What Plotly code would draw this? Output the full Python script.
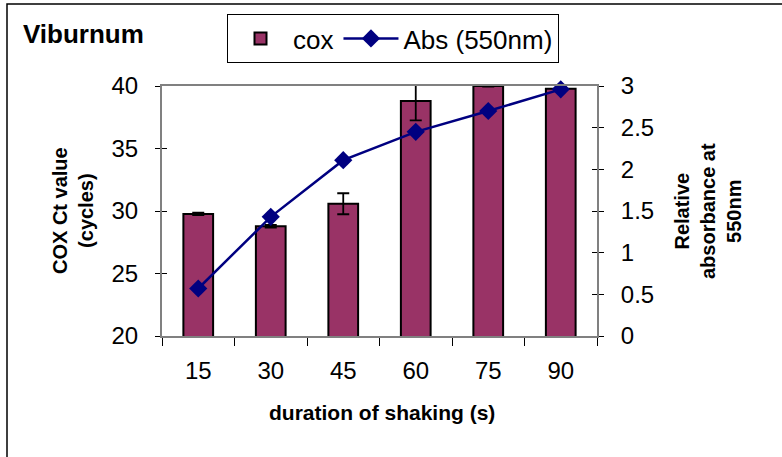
import plotly.graph_objects as go

categories = ["15", "30", "45", "60", "75", "90"]
cox_values = [29.77, 28.78, 30.58, 38.8, 40.0, 39.78]
cox_errors = [0.1, 0.1, 0.84, 1.55, 0.05, 0.1]
abs_values = [0.57, 1.43, 2.11, 2.45, 2.70, 2.96]

FONT = "Liberation Sans, Arial, sans-serif"

fig = go.Figure()
fig.add_trace(go.Bar(
    x=categories, y=cox_values, name="cox",
    marker=dict(color="#993366", line=dict(color="black", width=2)),
    yaxis="y",
))
# error bars drawn unclipped on top of the bars
fig.add_trace(go.Scatter(
    x=categories, y=cox_values, mode="markers", showlegend=False,
    marker=dict(size=1, color="rgba(0,0,0,0)"), cliponaxis=False,
    error_y=dict(type="data", array=cox_errors, visible=True, color="black",
                 thickness=1.8, width=6),
    hoverinfo="skip", yaxis="y",
))
fig.add_trace(go.Scatter(
    x=categories, y=abs_values, name="Abs (550nm)", mode="lines+markers",
    line=dict(color="#000080", width=2.5),
    marker=dict(symbol="diamond", size=14, color="#000080"),
    yaxis="y2", cliponaxis=False,
))

fig.update_layout(
    width=782, height=457,
    margin=dict(l=162, r=185, t=86, b=121),
    paper_bgcolor="white", plot_bgcolor="white",
    font=dict(family=FONT, size=24, color="black"),
    bargap=0.59,
    showlegend=True,
    legend=dict(orientation="h", x=(227 - 162) / 435, y=(336 - 14) / 250,
                xanchor="left", yanchor="top", itemwidth=55,
                bordercolor="black", borderwidth=1, font=dict(size=26),
                tracegroupgap=0),
    xaxis=dict(type="category", showline=True, linecolor="#808080", linewidth=2,
               mirror=True, ticks="outside", tickson="boundaries", ticklen=8,
               tickcolor="black", tickwidth=1, showgrid=False,
               ticklabelstandoff=12, tickfont=dict(size=24)),
    yaxis=dict(range=[20, 40], dtick=5, showline=True, linecolor="#808080", linewidth=2,
               ticks="outside", ticklen=5, tickcolor="black", showgrid=False,
               zeroline=False, ticklabelstandoff=12, tickfont=dict(size=24)),
    yaxis2=dict(range=[0, 3], dtick=0.5, overlaying="y", side="right", showline=True,
                linecolor="#808080", linewidth=2, ticks="outside", ticklen=5,
                tickcolor="black", showgrid=False, zeroline=False,
                ticklabelstandoff=12, tickfont=dict(size=24)),
    yaxis3=dict(range=[20, 40], dtick=5, overlaying="y", side="left", ticks="inside",
                ticklen=5, tickcolor="black", showticklabels=False, showgrid=False,
                zeroline=False, showline=False),
    yaxis4=dict(range=[0, 3], dtick=0.5, overlaying="y", side="right", ticks="inside",
                ticklen=5, tickcolor="black", showticklabels=False, showgrid=False,
                zeroline=False, showline=False),
)
# invisible traces to activate inside-tick axes
fig.add_trace(go.Scatter(x=[categories[0]], y=[None], yaxis="y3", showlegend=False,
                         hoverinfo="skip"))
fig.add_trace(go.Scatter(x=[categories[0]], y=[None], yaxis="y4", showlegend=False,
                         hoverinfo="skip"))

fig.add_annotation(text="<b>Viburnum</b>", xref="paper", yref="paper",
                   x=(21 - 162) / 435, y=(336 - 34) / 250, xanchor="left", yanchor="middle",
                   showarrow=False, font=dict(size=26, family=FONT))
fig.add_annotation(text="<b>COX Ct value<br>(cycles)</b>", xref="paper", yref="paper",
                   x=(73 - 162) / 435, y=(336 - 211) / 250, textangle=-90,
                   xanchor="center", yanchor="middle", showarrow=False,
                   font=dict(size=20, family=FONT))
fig.add_annotation(text="<b>Relative<br>absorbance at<br>550nm</b>", xref="paper", yref="paper",
                   x=(708 - 162) / 435, y=(336 - 211) / 250, textangle=-90,
                   xanchor="center", yanchor="middle", showarrow=False,
                   font=dict(size=20, family=FONT))
fig.add_annotation(text="<b>duration of shaking (s)</b>", xref="paper", yref="paper",
                   x=(382 - 162) / 435, y=(336 - 412) / 250,
                   xanchor="center", yanchor="middle", showarrow=False,
                   font=dict(size=21, family=FONT))
fig.add_shape(type="rect", xref="paper", yref="paper",
              x0=(7 - 162) / 435, x1=(800 - 162) / 435,
              y0=(336 - 4) / 250, y1=(336 - 480) / 250,
              line=dict(color="black", width=1.5), layer="below")

fig.write_html("out.html")
